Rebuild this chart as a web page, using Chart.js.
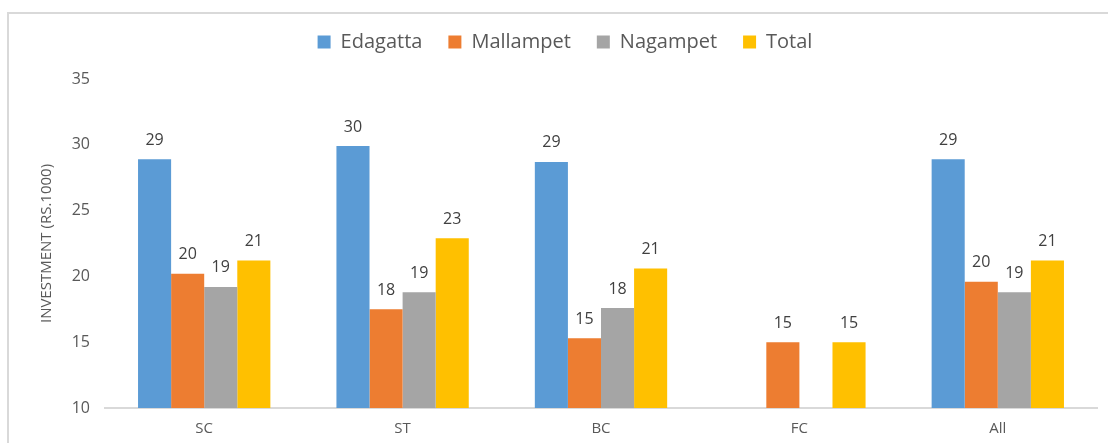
<!DOCTYPE html>
<html>
<head>
<meta charset="utf-8">
<script src="https://cdn.jsdelivr.net/npm/chart.js@4.4.1/dist/chart.umd.min.js"></script>
<style>
  html, body { margin: 0; padding: 0; background: #ffffff; }
  #wrap { width: 1108px; height: 443px; }
</style>
</head>
<body>
<div id="wrap"><canvas id="c" width="1108" height="443"></canvas></div>
<script>
const categories = ['SC', 'ST', 'BC', 'FC', 'All'];
const edagatta  = [28.9, 29.9, 28.7, null, 28.9];
const mallampet = [20.2, 17.5, 15.3, 15.0, 19.6];
const nagampet  = [19.2, 18.8, 17.6, null, 18.8];
const total     = [21.2, 22.9, 20.6, 15.0, 21.2];
const yTicks = { min: 10, max: 35, step: 5 };
const yTitle = 'INVESTMENT (RS.1000)';

const FONT = "'Open Sans', 'Noto Sans', sans-serif";

const framePlugin = {
  id: 'frame',
  afterInit(chart) {
    const lg = chart.legend;
    if (lg) {
      const origFit = lg.fit.bind(lg);
      lg.fit = function () { origFit(); this.height += 17; };
    }
  },
  beforeDraw(chart) {
    const ctx = chart.ctx;
    ctx.save();
    ctx.strokeStyle = '#d9d9d9';
    ctx.lineWidth = 2;
    ctx.beginPath();
    ctx.moveTo(8, 443);
    ctx.lineTo(8, 13);
    ctx.lineTo(1108, 13);
    ctx.stroke();
    ctx.restore();
  }
};

const valueLabels = {
  id: 'valueLabels',
  afterDatasetsDraw(chart) {
    const ctx = chart.ctx;
    ctx.save();
    ctx.font = "16px " + FONT;
    ctx.fillStyle = '#404040';
    ctx.textAlign = 'center';
    ctx.textBaseline = 'middle';
    chart.data.datasets.forEach((ds, i) => {
      const meta = chart.getDatasetMeta(i);
      meta.data.forEach((bar, j) => {
        const v = ds.data[j];
        if (v === null || v === undefined) return;
        ctx.fillText(String(Math.round(v)), bar.x, bar.y - 19);
      });
    });
    ctx.restore();
  }
};

new Chart(document.getElementById('c'), {
  type: 'bar',
  data: {
    labels: categories,
    datasets: [
      { label: 'Edagatta',  data: edagatta,  backgroundColor: '#5B9BD5' },
      { label: 'Mallampet', data: mallampet, backgroundColor: '#ED7D31' },
      { label: 'Nagampet',  data: nagampet,  backgroundColor: '#A5A5A5' },
      { label: 'Total',     data: total,     backgroundColor: '#FFC000' }
    ]
  },
  options: {
    responsive: false,
    animation: false,
    devicePixelRatio: 1,
    layout: { padding: { left: 33, right: 11, top: 6, bottom: 0 } },
    datasets: { bar: { categoryPercentage: 0.667, barPercentage: 1.0, borderWidth: 0 } },
    plugins: {
      tooltip: { enabled: false },
      legend: {
        position: 'top',
        labels: {
          font: { family: FONT, size: 20 },
          color: '#595959',
          boxWidth: 13,
          boxHeight: 13,
          padding: 26
        }
      }
    },
    scales: {
      x: {
        grid: { display: false, drawTicks: false },
        border: { display: true, color: '#d9d9d9', width: 2 },
        ticks: { font: { family: FONT, size: 15 }, color: '#595959', padding: 12 },
        afterFit(scale) { scale.height = 35; }
      },
      y: {
        min: yTicks.min,
        max: yTicks.max,
        grid: { display: false, drawTicks: false },
        border: { display: false },
        ticks: { stepSize: yTicks.step, font: { family: FONT, size: 16 }, color: '#595959', padding: 15 },
        title: { display: true, text: yTitle, font: { family: FONT, size: 15 }, color: '#595959', padding: 5 },
        afterFit(scale) { scale.width = 72; }
      }
    }
  },
  plugins: [framePlugin, valueLabels]
});
</script>
</body>
</html>
